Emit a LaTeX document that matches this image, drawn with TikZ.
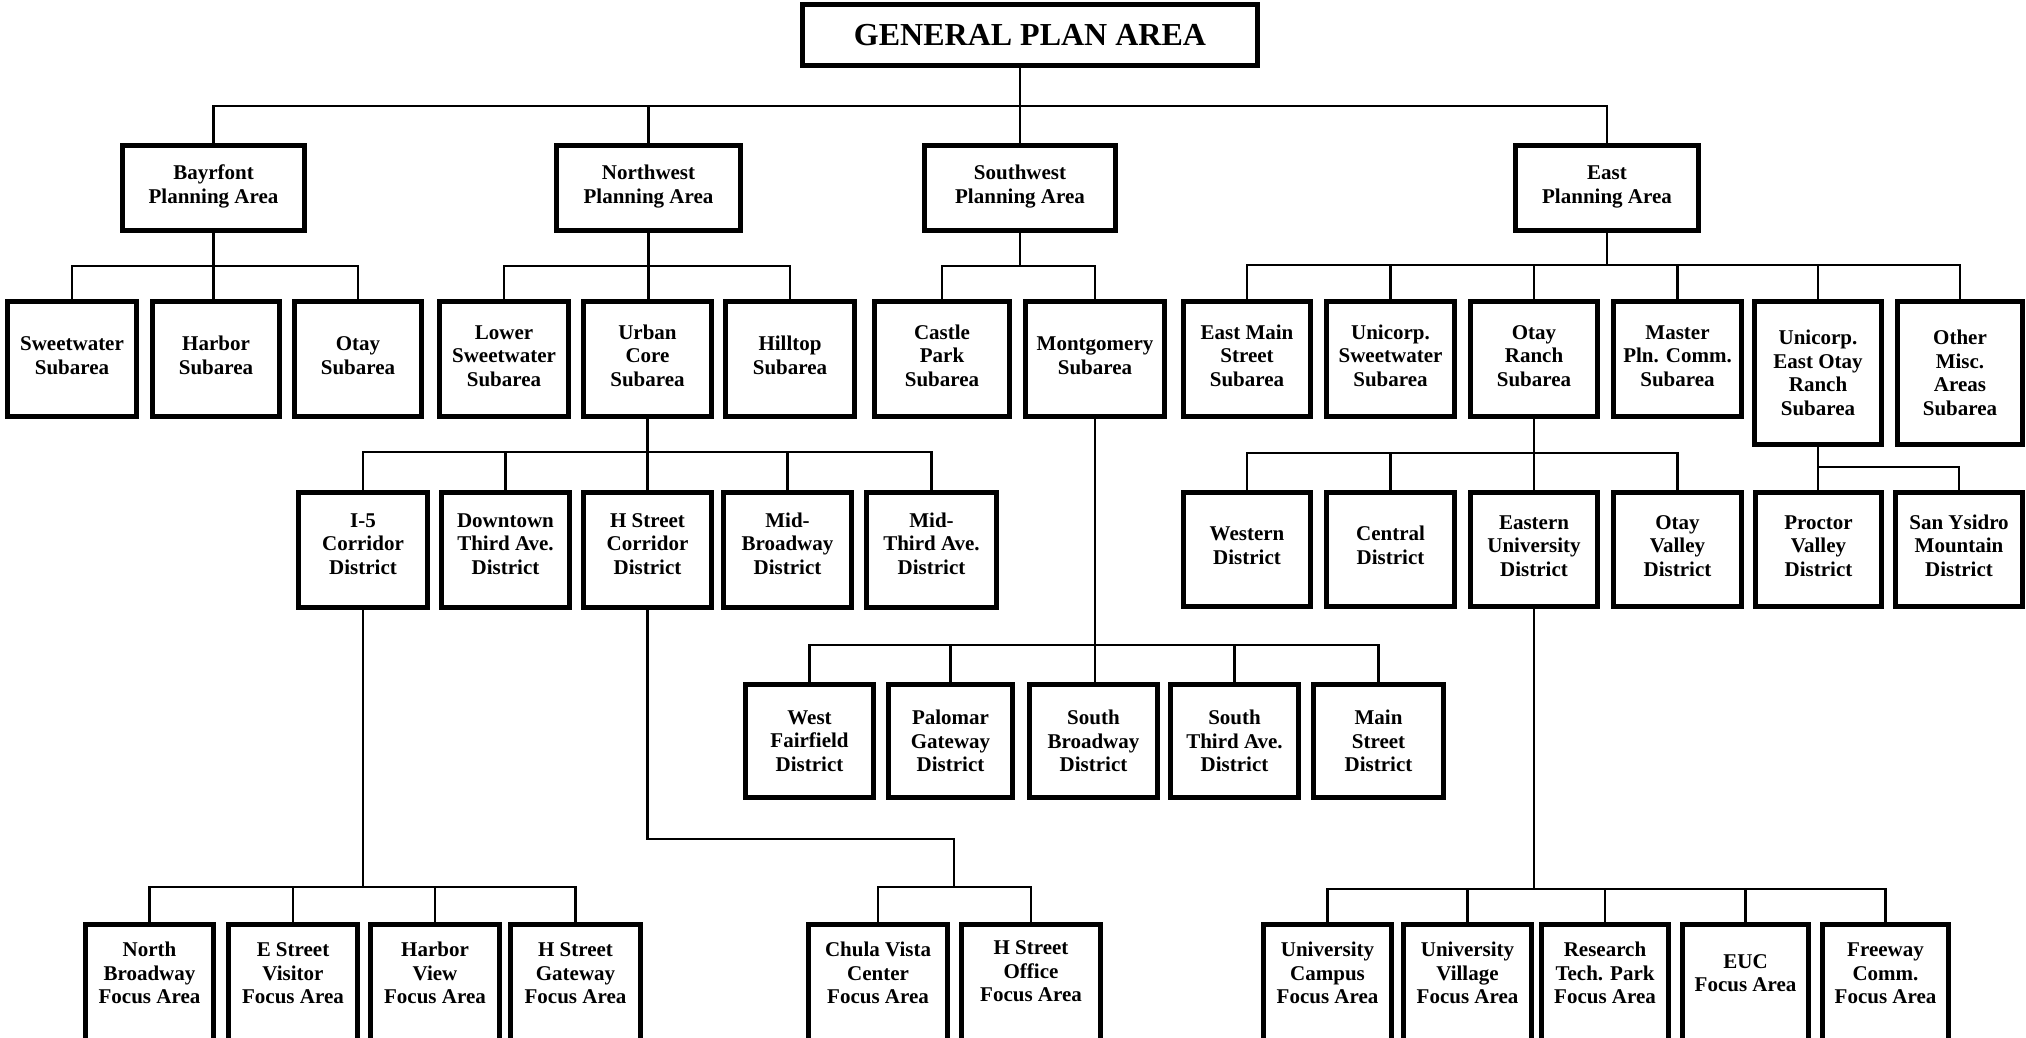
\documentclass[tikz,border=0pt]{standalone}
\usepackage{fontspec}
\setmainfont{Liberation Serif}
\newcommand\bx[6]{\node[box,minimum width={#4-#2-5},minimum height={#5-#3-5}] (#1) at ({(#2+#4)/2},{(#3+#5)/2}) {#6};}
\newcommand\upt[2][7]{\raisebox{#1pt}[\height][\depth]{\begin{tabular}{@{}c@{}}#2\end{tabular}}}
\begin{document}
\begin{tikzpicture}[x=1pt,y=-1pt,
  box/.style={draw, line width=5pt, align=center, inner sep=0pt, fill=white,
    font=\bfseries\fontsize{21}{23.5}\selectfont},
  conn/.style={line width=2.5pt}]
\clip (0,0) rectangle (2026,1038);
\fill[white] (0,0) rectangle (2026,1038);
% level 0
\node[box,minimum width=455,minimum height=61,font=\bfseries\fontsize{32}{36}\selectfont] (gpa) at (1030,35) {GENERAL PLAN AREA};
% level 1
\bx{bay}{120}{143}{307}{233}{\upt[1]{Bayrfont\\Planning Area}}
\bx{nw}{554}{143}{743}{233}{\upt[1]{Northwest\\Planning Area}}
\bx{sw}{922}{143}{1118}{233}{\upt[1]{Southwest\\Planning Area}}
\bx{east}{1513}{143}{1701}{233}{\upt[1]{East\\Planning Area}}
% level 2
\bx{sweet}{5}{299}{139}{419}{\upt[1]{Sweetwater\\Subarea}}
\bx{harbor}{150}{299}{282}{419}{\upt[1]{Harbor\\Subarea}}
\bx{otay}{292}{299}{424}{419}{\upt[1]{Otay\\Subarea}}
\bx{lsw}{437}{299}{571}{419}{\upt[1]{Lower\\Sweetwater\\Subarea}}
\bx{urban}{581}{299}{714}{419}{\upt[1]{Urban\\Core\\Subarea}}
\bx{hill}{723}{299}{857}{419}{\upt[1]{Hilltop\\Subarea}}
\bx{castle}{872}{299}{1012}{419}{\upt[1]{Castle\\Park\\Subarea}}
\bx{mont}{1023}{299}{1167}{419}{\upt[1]{Montgomery\\Subarea}}
\bx{eastmain}{1181}{299}{1313}{419}{\upt[1]{East Main\\Street\\Subarea}}
\bx{usw}{1324}{299}{1457}{419}{\upt[1]{Unicorp.\\Sweetwater\\Subarea}}
\bx{otayr}{1468}{299}{1600}{419}{\upt[1]{Otay\\Ranch\\Subarea}}
\bx{master}{1611}{299}{1744}{419}{\upt[1]{Master\\Pln. Comm.\\Subarea}}
\bx{ueor}{1752}{299}{1884}{447}{Unicorp.\\East Otay\\Ranch\\Subarea}
\bx{other}{1895}{299}{2025}{447}{Other\\Misc.\\Areas\\Subarea}
% level 3: Urban Core districts
\bx{i5}{296}{490}{430}{610}{\upt[4]{I-5\\Corridor\\District}}
\bx{dta}{439}{490}{572}{610}{\upt[4]{Downtown\\Third Ave.\\District}}
\bx{hsc}{581}{490}{714}{610}{\upt[4]{H Street\\Corridor\\District}}
\bx{mbw}{721}{490}{854}{610}{\upt[4]{Mid-\\Broadway\\District}}
\bx{mta}{864}{490}{999}{610}{\upt[4]{Mid-\\Third Ave.\\District}}
% level 3: Otay Ranch and East Otay Ranch districts
\bx{west}{1181}{490}{1313}{609}{\upt[1.5]{Western\\District}}
\bx{central}{1324}{490}{1457}{609}{\upt[1.5]{Central\\District}}
\bx{eastu}{1468}{490}{1600}{609}{\upt[1.5]{Eastern\\University\\District}}
\bx{ovalley}{1611}{490}{1744}{609}{\upt[1.5]{Otay\\Valley\\District}}
\bx{proctor}{1753}{490}{1884}{609}{\upt[1.5]{Proctor\\Valley\\District}}
\bx{sany}{1893}{490}{2025}{609}{\upt[1.5]{San Ysidro\\Mountain\\District}}
% Montgomery districts
\bx{wf}{743}{682}{876}{800}{West\\Fairfield\\District}
\bx{pg}{886}{682}{1015}{800}{Palomar\\Gateway\\District}
\bx{sb}{1027}{682}{1160}{800}{South\\Broadway\\District}
\bx{sta}{1168}{682}{1301}{800}{South\\Third Ave.\\District}
\bx{ms}{1311}{682}{1446}{800}{Main\\Street\\District}
% focus areas
\bx{nb}{83}{922}{216}{1043}{\upt[7]{North\\Broadway\\Focus Area}}
\bx{esv}{226}{922}{360}{1043}{\upt[7]{E Street\\Visitor\\Focus Area}}
\bx{hv}{368}{922}{502}{1043}{\upt[7]{Harbor\\View\\Focus Area}}
\bx{hsg}{508}{922}{643}{1043}{\upt[7]{H Street\\Gateway\\Focus Area}}
\bx{cvc}{806}{922}{950}{1043}{\upt[7]{Chula Vista\\Center\\Focus Area}}
\bx{hso}{959}{922}{1103}{1043}{\upt[9]{H Street\\Office\\Focus Area}}
\bx{uc}{1261}{922}{1394}{1043}{\upt[7]{University\\Campus\\Focus Area}}
\bx{uv}{1401}{922}{1534}{1043}{\upt[7]{University\\Village\\Focus Area}}
\bx{rtp}{1539}{922}{1671}{1043}{\upt[7]{Research\\Tech. Park\\Focus Area}}
\bx{euc}{1680}{922}{1811}{1043}{\upt[7]{EUC\\Focus Area}}
\bx{fc}{1820}{922}{1951}{1043}{\upt[7]{Freeway\\Comm.\\Focus Area}}
% connectors: level 0 -> 1
\draw[conn] ([xshift=-10pt]gpa.south) -- ([xshift=-10pt]gpa.south |- 0,106);
\draw[conn] (bay.north) -- (bay.north |- 0,106) -- (east.north |- 0,106) -- (east.north);
\draw[conn] (nw.north) -- (nw.north |- 0,106);
\draw[conn] (sw.north) -- (sw.north |- 0,106);
% Bayrfont
\draw[conn] (bay.south) -- (bay.south |- harbor.north);
\draw[conn] (sweet.north) -- (sweet.north |- 0,266) -- (otay.north |- 0,266) -- (otay.north);
% Northwest
\draw[conn] (nw.south) -- (nw.south |- urban.north);
\draw[conn] (lsw.north) -- (lsw.north |- 0,266) -- (hill.north |- 0,266) -- (hill.north);
% Southwest
\draw[conn] (sw.south) -- (sw.south |- 0,266);
\draw[conn] (castle.north) -- (castle.north |- 0,266) -- (mont.north |- 0,266) -- (mont.north);
% East
\draw[conn] (east.south) -- (east.south |- 0,265);
\draw[conn] (eastmain.north) -- (eastmain.north |- 0,265) -- (other.north |- 0,265) -- (other.north);
\foreach \n in {usw,otayr,master,ueor} \draw[conn] (\n.north) -- (\n.north |- 0,265);
% Urban Core
\draw[conn] (urban.south) -- (urban.south |- hsc.north);
\draw[conn] (i5.north) -- (i5.north |- 0,452) -- (mta.north |- 0,452) -- (mta.north);
\foreach \n in {dta,mbw} \draw[conn] (\n.north) -- (\n.north |- 0,452);
% Otay Ranch
\draw[conn] (otayr.south) -- (otayr.south |- eastu.north);
\draw[conn] (west.north) -- (west.north |- 0,453) -- (ovalley.north |- 0,453) -- (ovalley.north);
\draw[conn] (central.north) -- (central.north |- 0,453);
% Unicorp. East Otay Ranch
\draw[conn] (ueor.south) -- (ueor.south |- proctor.north);
\draw[conn] (ueor.south |- 0,467) -- (sany.north |- 0,467) -- (sany.north);
% Montgomery
\draw[conn] (mont.south) -- (mont.south |- sb.north);
\draw[conn] (wf.north) -- (wf.north |- 0,645) -- (ms.north |- 0,645) -- (ms.north);
\foreach \n in {pg,sta} \draw[conn] (\n.north) -- (\n.north |- 0,645);
% I-5 Corridor
\draw[conn] (i5.south) -- (i5.south |- 0,887);
\draw[conn] (nb.north) -- (nb.north |- 0,887) -- (hsg.north |- 0,887) -- (hsg.north);
\foreach \n in {esv,hv} \draw[conn] (\n.north) -- (\n.north |- 0,887);
% H Street Corridor
\coordinate (hbend) at (954,839);
\draw[conn] (hsc.south) |- (hbend) -- (hbend |- 0,887);
\draw[conn] (cvc.north) -- (cvc.north |- 0,887) -- (hso.north |- 0,887) -- (hso.north);
% Eastern University
\draw[conn] (eastu.south) -- (eastu.south |- 0,889);
\draw[conn] (uc.north) -- (uc.north |- 0,889) -- (fc.north |- 0,889) -- (fc.north);
\foreach \n in {uv,rtp,euc} \draw[conn] (\n.north) -- (\n.north |- 0,889);
\end{tikzpicture}
\end{document}
